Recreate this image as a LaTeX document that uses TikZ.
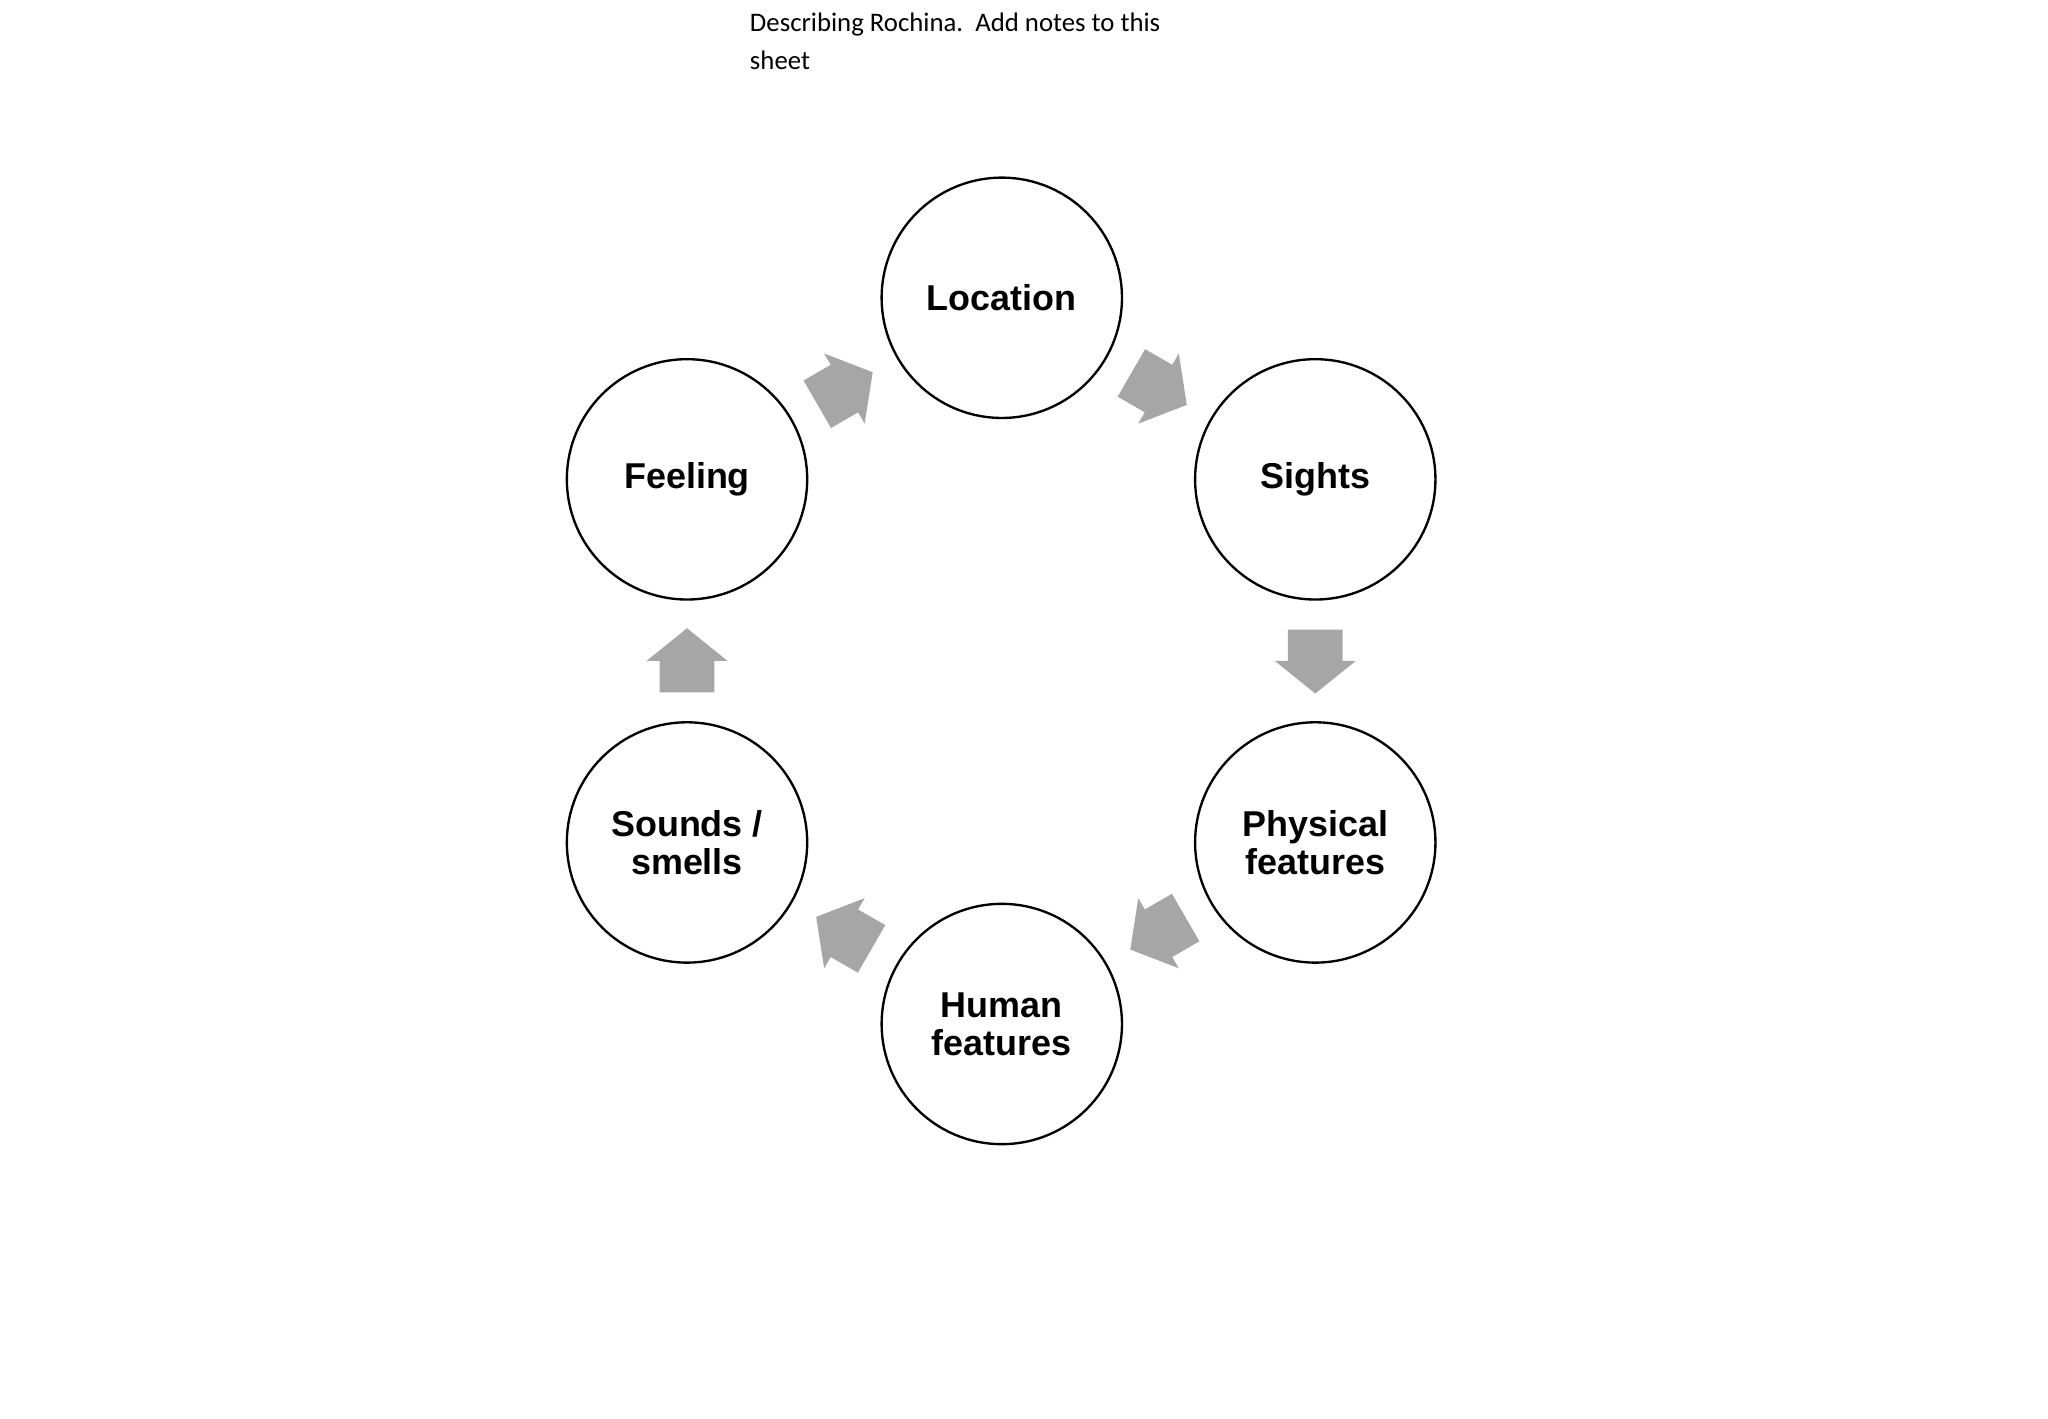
\documentclass[tikz,border=0pt]{standalone}
\usepackage{fontspec}
\setmainfont{Liberation Sans}
\newfontfamily\calib{Carlito}
\usetikzlibrary{calc}
\begin{document}
\begin{tikzpicture}[x=1pt,y=-1pt,
  circ/.style={circle,draw=black,line width=1.8pt,minimum size=184pt,inner sep=0pt,align=center,font=\fontsize{27.5}{29}\selectfont\bfseries},
  blockarrow/.pic={\fill[fill=black!35] (-24pt,-21pt) -- (0pt,-21pt) -- (0pt,-31pt) -- (25pt,0pt) -- (0pt,31pt) -- (0pt,21pt) -- (-24pt,21pt) -- cycle;}]
\useasboundingbox (0,0) rectangle (1568,1086);
\node[anchor=north west,align=left,font=\calib\fontsize{20.5}{29}\selectfont,inner sep=0pt] (title) at (574,10) {Describing Rochina.\ \ Add notes to this\\sheet};
\node[circ] (loc) at (767,228) {Location};
\node[circ] (sig) at (1007,367) {Sights};
\node[circ] (phy) at (1007,645) {Physical\\features};
\node[circ] (hum) at (767,784) {Human\\features};
\node[circ] (snd) at (526,645) {Sounds /\\smells};
\node[circ] (fee) at (526,367) {Feeling};
\pic[rotate=-30] at ($(loc)!0.5!(sig)$) {blockarrow};
\pic[rotate=-90] at ($(sig)!0.5!(phy)$) {blockarrow};
\pic[rotate=-150] at ($(phy)!0.5!(hum)$) {blockarrow};
\pic[rotate=150] at ($(hum)!0.5!(snd)$) {blockarrow};
\pic[rotate=90] at ($(snd)!0.5!(fee)$) {blockarrow};
\pic[rotate=30] at ($(fee)!0.5!(loc)$) {blockarrow};
\end{tikzpicture}
\end{document}
